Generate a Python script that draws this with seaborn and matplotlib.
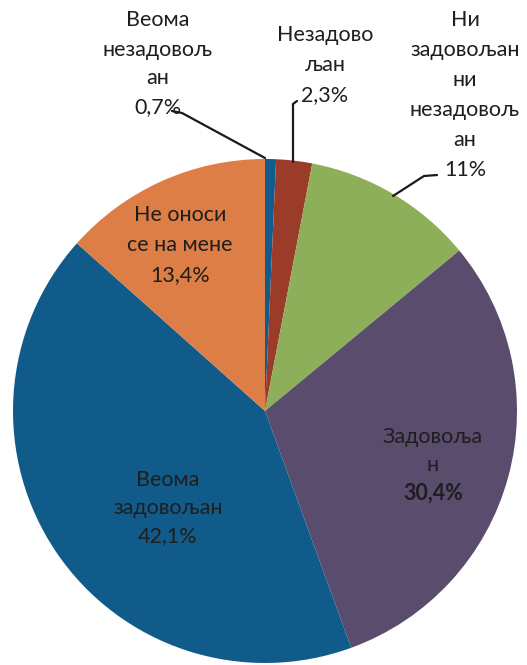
import matplotlib
matplotlib.use("Agg")
import matplotlib.pyplot as plt
import seaborn as sns

# ---- data ----
categories = ["Веома незадовољан", "Незадовољан", "Ни задовољан ни незадовољан",
              "Задовољан", "Веома задовољан", "Не оноси се на мене"]
values = [0.7, 2.3, 11.0, 30.4, 42.1, 13.4]
label_texts = ["Веома\nнезадовољ\nан", "Незадово\nљан", "Ни\nзадовољан\nни\nнезадовољ\nан",
               "Задовоља\nн", "Веома\nзадовољан", "Не оноси\nсе на мене"]
slice_colors = ["#125C8C", "#9B3B2A", "#8DAF5A", "#5A4C6D", "#115B8A", "#DC7E46"]

sns.set_theme(style="white")
plt.rcParams['font.family'] = ['Lato', 'DejaVu Sans']

W, H = 527, 665
fig = plt.figure(figsize=(W / 100, H / 100), dpi=100)
ax = fig.add_axes([0, 0, 1, 1])

palette = sns.color_palette(slice_colors)
cx, cy, r = 265, H - 411, 252
ax.pie(values, colors=palette, startangle=90, counterclock=False,
       center=(cx, cy), radius=r, wedgeprops=dict(linewidth=0))
ax.set_xlim(0, W)
ax.set_ylim(0, H)
ax.set_aspect("equal")
ax.axis("off")

def pct(v):
    return f"{v:g}".replace(".", ",") + "%"

txt_color = "#1E1E1E"
fs = 15.5
# layout (pixel coords of label centers, top-down, line step)
layout = [
    (158, 64, 29, False),
    (325, 65, 30, False),
    (465, 95, 30, False),
    (433, 465, 28, True),
    (168, 508, 28, False),
    (180, 245, 30, False),
]
for v, t, (x, y, step, bold) in zip(values, label_texts, layout):
    lines = (t + "\n" + pct(v)).split("\n")
    n = len(lines)
    y0 = y - (n - 1) * step / 2
    for i, line in enumerate(lines):
        ax.text(x, H - (y0 + i * step), line, ha="center", va="center",
                fontsize=fs, color=txt_color,
                fontweight="bold" if (bold and i == n - 1) else "normal")

# leader lines
lc = "#1A1A1A"
ax.plot([172, 182, 265], [H - 111, H - 113, H - 158], color=lc, lw=1.6)
ax.plot([297, 293, 293], [H - 101, H - 104, H - 162], color=lc, lw=1.6)
ax.plot([437, 424, 393], [H - 175, H - 176, H - 196], color=lc, lw=1.6)

fig.savefig("out.png", dpi=100)
